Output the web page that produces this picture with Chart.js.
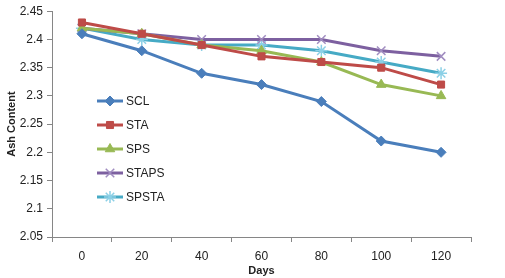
<!DOCTYPE html>
<html lang="en">
<head>
<meta charset="UTF-8">
<title>Ash Content</title>
<script src="https://cdn.jsdelivr.net/npm/chart.js"></script>
<style>
    html, body { margin: 0; padding: 0; background: #fff; }
    #wrap { width: 505px; height: 278px; position: relative; }
</style>
</head>
<body>
<div id="wrap"><canvas id="grafico"></canvas></div>
<script>
    const days = ['0', '20', '40', '60', '80', '100', '120'];
    const scl   = [2.41, 2.38, 2.34, 2.32, 2.29, 2.22, 2.20];
    const sta   = [2.43, 2.41, 2.39, 2.37, 2.36, 2.35, 2.32];
    const sps   = [2.42, 2.41, 2.39, 2.38, 2.36, 2.32, 2.30];
    const staps = [2.42, 2.41, 2.40, 2.40, 2.40, 2.38, 2.37];
    const spsta = [2.42, 2.40, 2.39, 2.39, 2.38, 2.36, 2.34];
    const yTicks = [2.05, 2.1, 2.15, 2.2, 2.25, 2.3, 2.35, 2.4, 2.45];

    const fonte = 'Liberation Sans';
    const cinza = '#868686';

    function serie(label, data, cor, estilo, raio, borda, fill) {
        return {
            label: label, data: data,
            borderColor: cor, backgroundColor: fill || cor,
            borderWidth: 3, tension: 0,
            pointStyle: estilo, pointRadius: raio, pointHoverRadius: raio,
            pointBorderColor: borda || cor, pointBackgroundColor: fill || cor,
            pointBorderWidth: estilo === 'crossRot' || estilo === 'star' ? 1.5 : 1
        };
    }

    const datasets = [
        serie('SCL', scl, '#4A7EBB', 'rectRot', 5),
        serie('STA', sta, '#BE4B48', 'rect', 5),
        serie('SPS', sps, '#98B954', 'triangle', 5.5),
        serie('STAPS', staps, '#7D60A0', 'crossRot', 6, '#A08CC0'),
        serie('SPSTA', spsta, '#46AAC5', 'star', 6, '#8CD0E6')
    ];

    // legenda desenhada dentro da área do gráfico
    const legendaInterna = {
        id: 'legendaInterna',
        afterDraw(chart) {
            const ctx = chart.ctx;
            ctx.save();
            chart.data.datasets.forEach((ds, i) => {
                const y = 101 + i * 24;
                ctx.strokeStyle = ds.borderColor;
                ctx.lineWidth = 3;
                ctx.beginPath();
                ctx.moveTo(97, y);
                ctx.lineTo(123, y);
                ctx.stroke();
                ctx.fillStyle = ds.pointBackgroundColor;
                ctx.strokeStyle = ds.pointBorderColor;
                ctx.lineWidth = ds.pointBorderWidth;
                Chart.helpers.drawPoint(ctx, { pointStyle: ds.pointStyle, radius: ds.pointRadius, rotation: 0, borderWidth: ds.pointBorderWidth }, 110, y);
                ctx.fillStyle = '#222';
                ctx.font = '12px "' + fonte + '"';
                ctx.textBaseline = 'middle';
                ctx.textAlign = 'left';
                ctx.fillText(ds.label, 126, y + 0.5);
            });
            ctx.restore();
        }
    };

    new Chart(document.getElementById('grafico'), {
        type: 'line',
        data: { labels: days, datasets: datasets },
        plugins: [legendaInterna],
        options: {
            responsive: true,
            maintainAspectRatio: false,
            animation: false,
            layout: { padding: { left: 0, right: 34, top: 9, bottom: 0 } },
            plugins: { legend: { display: false }, tooltip: { enabled: false } },
            scales: {
                x: {
                    offset: true,
                    grid: { display: true, drawOnChartArea: false, drawTicks: true, tickLength: 5, color: cinza, offset: true },
                    border: { color: cinza, width: 1 },
                    ticks: { color: '#222', font: { family: fonte, size: 12 }, padding: 7, maxRotation: 0 },
                    title: { display: true, text: 'Days', color: '#222', font: { family: fonte, size: 11, weight: 'bold' }, padding: { top: 2, bottom: 0 } },
                    afterFit(s) { s.height = 41; }
                },
                y: {
                    min: 2.05, max: 2.45,
                    afterBuildTicks(s) { s.ticks = yTicks.map(v => ({ value: v })); },
                    grid: { display: true, drawOnChartArea: false, drawTicks: true, tickLength: 5, color: cinza },
                    border: { color: cinza, width: 1 },
                    ticks: {
                        color: '#222', font: { family: fonte, size: 12 }, padding: 4,
                        callback: v => String(Math.round(v * 100) / 100)
                    },
                    title: { display: true, text: 'Ash Content', color: '#222', font: { family: fonte, size: 11, weight: 'bold' }, padding: { top: 5, bottom: 2 } },
                    afterFit(s) { s.width = 52; }
                }
            }
        }
    });
</script>
</body>
</html>
